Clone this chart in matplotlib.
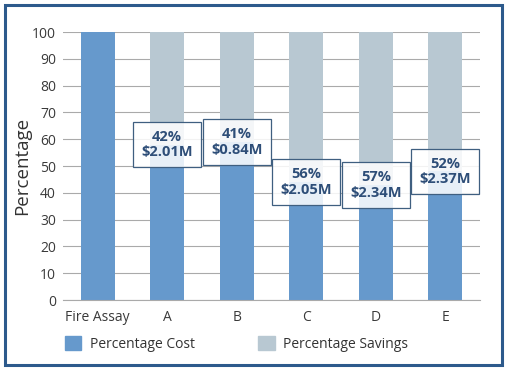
import numpy as np
import matplotlib.pyplot as plt
from matplotlib.patches import Rectangle, Patch

categories = ['Fire Assay', 'A', 'B', 'C', 'D', 'E']
pct_cost = [100, 58, 59, 44, 43, 48]
pct_savings = [0, 42, 41, 56, 57, 52]
savings_labels = ['', '42%\n$2.01M', '41%\n$0.84M', '56%\n$2.05M', '57%\n$2.34M', '52%\n$2.37M']

blue = '#6699CC'
grey = '#B8C8D2'
dark = '#2E4E78'

plt.rcParams['font.family'] = ['Open Sans', 'DejaVu Sans']

fig = plt.figure(figsize=(5.07, 3.70), dpi=100)
ax = fig.add_axes([63 / 507, 1 - 300 / 370, 417 / 507, 268 / 370])

x = np.arange(len(categories))
ax.bar(x, pct_cost, width=0.49, color=blue, zorder=2, label='Percentage Cost')
ax.bar(x, pct_savings, width=0.49, bottom=pct_cost, color=grey, zorder=2,
       label='Percentage Savings')

for xi, c, lab in zip(x, pct_cost, savings_labels):
    if lab:
        ax.text(xi, c, lab, ha='center', va='center', fontsize=10.5, fontweight='bold',
                color=dark, linespacing=1.15, zorder=4,
                bbox=dict(boxstyle='square,pad=0.55', fc=(1, 1, 1, 0.85),
                          ec='#3F5F80', lw=0.9))

ax.set_xlim(-0.5, 5.5)
ax.set_ylim(0, 100)
ax.set_yticks(range(0, 101, 10))
ax.set_xticks(x)
ax.set_xticklabels(categories)
ax.yaxis.grid(True, color='#AAAAAA', lw=0.8, zorder=0)
ax.tick_params(axis='both', length=0, labelsize=10, colors='#3A3A3A', pad=7)
ax.tick_params(axis='y', pad=5)
for s in ['top', 'right', 'left']:
    ax.spines[s].set_visible(False)
ax.spines['bottom'].set_color('#AAAAAA')
ax.set_ylabel('Percentage', fontsize=13.5, color='#333333', labelpad=1)

handles = [Patch(color=blue, label='Percentage Cost'),
           Patch(color=grey, label='Percentage Savings')]
fig.legend(handles=handles, loc='center left', bbox_to_anchor=(52 / 507, 1 - 344 / 370),
           ncol=2, frameon=False, fontsize=10, handlelength=1.2, handleheight=1.2,
           columnspacing=4.6, handletextpad=0.6, labelcolor='#333333')

fig.patches.append(Rectangle((5 / 507, 5 / 370), 497 / 507, 360 / 370,
                             transform=fig.transFigure, fill=False,
                             ec='#2D5A8C', lw=2.2))

fig.savefig('out.png', dpi=100)
